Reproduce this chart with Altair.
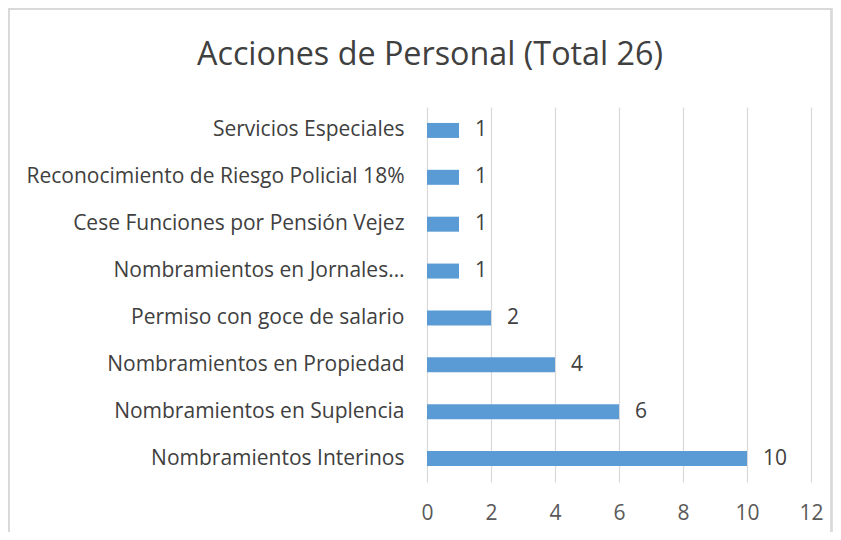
import altair as alt
import pandas as pd

title_text = "Acciones de Personal (Total 26)"
categories = [
    "Servicios Especiales",
    "Reconocimiento de Riesgo Policial 18%",
    "Cese Funciones por Pensión Vejez",
    "Nombramientos en Jornales…",
    "Permiso con goce de salario",
    "Nombramientos en Propiedad",
    "Nombramientos en Suplencia",
    "Nombramientos Interinos",
]
values = [1, 1, 1, 1, 2, 4, 6, 10]
x_ticks = [0, 2, 4, 6, 8, 10, 12]

df = pd.DataFrame({"cat": categories, "val": values})
FONT = "Open Sans"
FS = 21

y_enc = alt.Y("cat:N", sort=categories, title=None,
              scale=alt.Scale(paddingInner=0.68, paddingOuter=0.34),
              axis=alt.Axis(labelFont=FONT, labelFontSize=FS, labelColor="#404040",
                            labelPadding=23, ticks=False, domain=False,
                            labelLimit=420, grid=False))
x_enc = alt.X("val:Q", title=None,
              scale=alt.Scale(domain=[0, 12], nice=False),
              axis=alt.Axis(values=x_ticks, labelFont=FONT, labelFontSize=FS,
                            labelColor="#595959", labelPadding=20, ticks=False,
                            labelFlush=False, labelOverlap=False,
                            domain=False, grid=True, gridColor="#d9d9d9",
                            gridWidth=1.2))

bars = alt.Chart(df).mark_bar(color="#5b9bd5").encode(x=x_enc, y=y_enc)
labels = alt.Chart(df).mark_text(align="left", dx=16, font=FONT, fontSize=FS,
                                 color="#404040").encode(
    x="val:Q", y=alt.Y("cat:N", sort=categories), text="val:Q")

frame = alt.Chart(df).mark_rect(fill=None, stroke="#d9d9d9", strokeWidth=1.5).encode(
    x=alt.value(-418), x2=alt.value(404.5), y=alt.value(-98), y2=alt.value(460))

title = alt.Chart(pd.DataFrame({"t": [title_text]})).mark_text(
    font=FONT, fontSize=32.3, color="#404040", align="center", baseline="alphabetic"
).encode(text="t:N", x=alt.value(3), y=alt.value(-42))

chart = alt.layer(frame, bars, labels, title).properties(
    width=384, height=375,
    autosize=alt.AutoSizeParams(type="none"),
    padding={"left": 419, "top": 99, "right": 22, "bottom": 50},
).configure_view(stroke=None)

chart.save("out.html", embed_options={"renderer": "svg", "actions": False})
